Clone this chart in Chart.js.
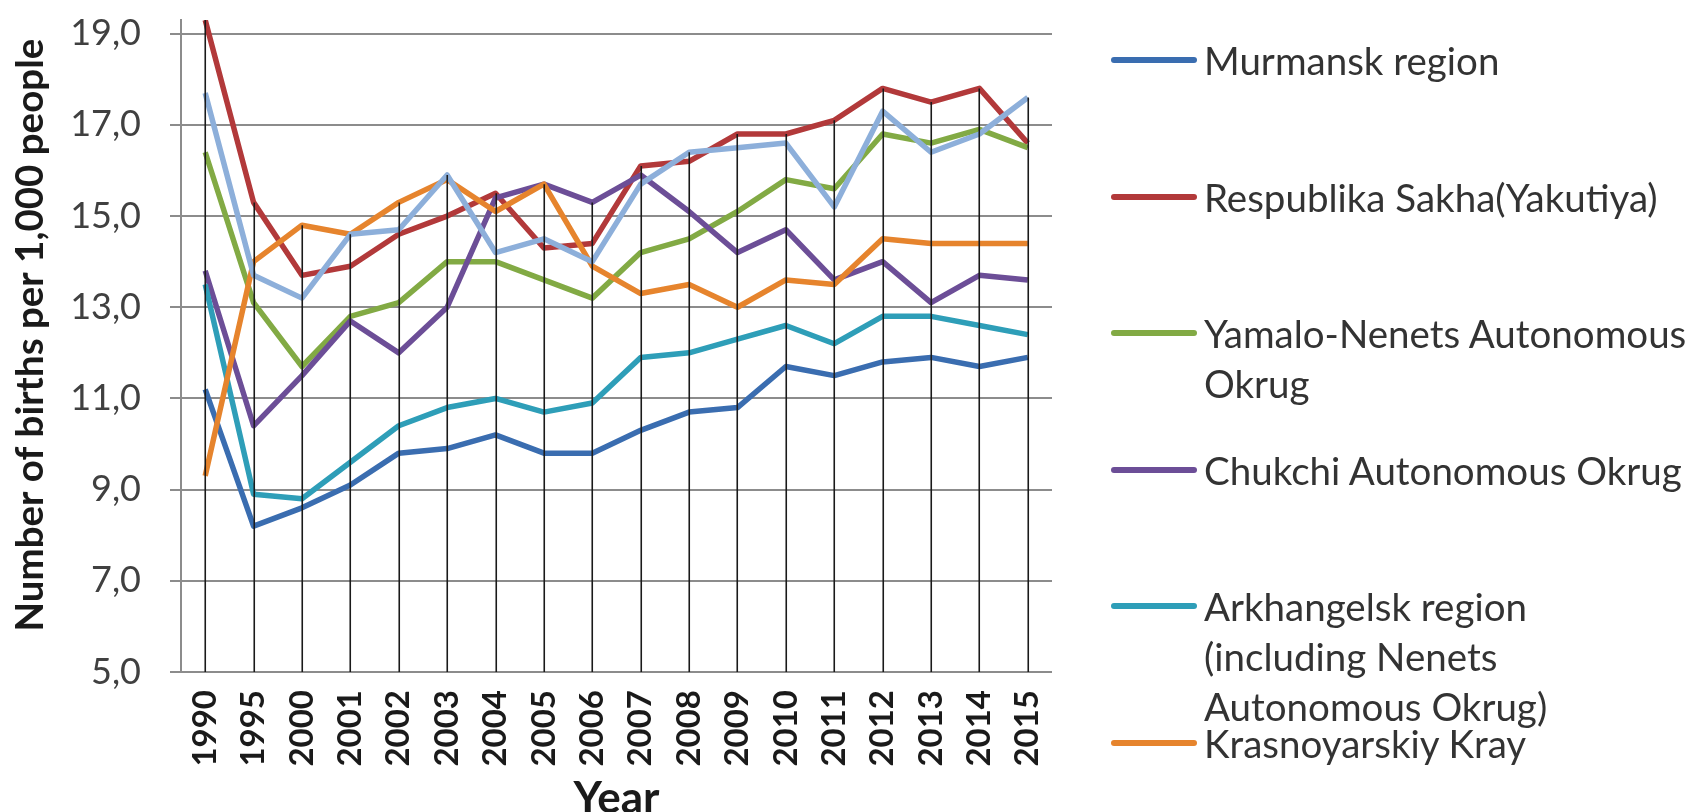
<!DOCTYPE html>
<html>
<head>
<meta charset="utf-8">
<script src="https://cdn.jsdelivr.net/npm/chart.js@4.4.1/dist/chart.umd.min.js"></script>
<style>
  body { margin:0; background:#fff; }
  #wrap { position:relative; width:1692px; height:812px; overflow:hidden; }
  #legend { position:absolute; left:0; top:0; width:1692px; height:812px; font-family:Lato, sans-serif; font-size:38.5px; color:#333; }
  .item { position:absolute; left:1111px; }
  .item .sw { position:absolute; left:0; top:22px; width:86px; height:6px; border-radius:3px; }
  .item .tx { position:absolute; left:93px; top:0; line-height:50px; white-space:pre; }
</style>
</head>
<body>
<div id="wrap">
  <canvas id="mychart" width="1692" height="812"></canvas>
  <div id="legend"></div>
</div>
<script>
var years = ['1990','1995','2000','2001','2002','2003','2004','2005','2006','2007','2008','2009','2010','2011','2012','2013','2014','2015']

var murmansk = [11.2, 8.2, 8.6, 9.1, 9.8, 9.9, 10.2, 9.8, 9.8, 10.3, 10.7, 10.8, 11.7, 11.5, 11.8, 11.9, 11.7, 11.9]
var sakha    = [19.3, 15.3, 13.7, 13.9, 14.6, 15.0, 15.5, 14.3, 14.4, 16.1, 16.2, 16.8, 16.8, 17.1, 17.8, 17.5, 17.8, 16.6]
var yamalo   = [16.4, 13.1, 11.7, 12.8, 13.1, 14.0, 14.0, 13.6, 13.2, 14.2, 14.5, 15.1, 15.8, 15.6, 16.8, 16.6, 16.9, 16.5]
var chukchi  = [13.8, 10.4, 11.5, 12.7, 12.0, 13.0, 15.4, 15.7, 15.3, 15.9, 15.1, 14.2, 14.7, 13.6, 14.0, 13.1, 13.7, 13.6]
var arkh     = [13.5, 8.9, 8.8, 9.6, 10.4, 10.8, 11.0, 10.7, 10.9, 11.9, 12.0, 12.3, 12.6, 12.2, 12.8, 12.8, 12.6, 12.4]
var krasn    = [9.3, 14.0, 14.8, 14.6, 15.3, 15.8, 15.1, 15.7, 13.9, 13.3, 13.5, 13.0, 13.6, 13.5, 14.5, 14.4, 14.4, 14.4]
// 7th series, its legend entry is cut off in the original
var series7  = [17.7, 13.7, 13.2, 14.6, 14.7, 15.9, 14.2, 14.5, 14.0, 15.7, 16.4, 16.5, 16.6, 15.2, 17.3, 16.4, 16.8, 17.6]

var names = ['Murmansk region', 'Respublika Sakha(Yakutiya)', 'Yamalo-Nenets Autonomous\nOkrug',
             'Chukchi Autonomous Okrug', 'Arkhangelsk region\n(including Nenets\nAutonomous Okrug)',
             'Krasnoyarskiy Kray', '']
var colors = ['#3a6db0', '#b2393a', '#82aa44', '#6c4e97', '#2e9eb8', '#e6842d', '#8dafda']
var series = [murmansk, sakha, yamalo, chukchi, arkh, krasn, series7]

var yTicks = [5, 7, 9, 11, 13, 15, 17, 19]

var datasets = []
series.forEach(function(s, i){
  datasets.push({
    label: names[i].replace(/\n/g, ' ') || 'Series 7',
    data: s,
    borderColor: colors[i],
    backgroundColor: colors[i],
    borderWidth: 5.5,
    pointRadius: 0,
    borderJoinStyle: 'round',
    tension: 0,
    order: series.length - i
  })
})

// Excel style drop lines: from highest point of each year down to the axis
var dropLines = {
  id: 'dropLines',
  afterDatasetsDraw: function(chart){
    var ctx = chart.ctx, xs = chart.scales.x, ys = chart.scales.y
    ctx.save()
    ctx.strokeStyle = '#1a1a1a'
    ctx.lineWidth = 1.6
    for (var i = 0; i < years.length; i++) {
      var top = Math.max.apply(null, series.map(function(s){ return s[i] }))
      var px = Math.round(xs.getPixelForValue(i)) + 0.25
      ctx.beginPath()
      ctx.moveTo(px, ys.getPixelForValue(top))
      ctx.lineTo(px, ys.getPixelForValue(yTicks[0]))
      ctx.stroke()
    }
    ctx.restore()
  }
}

var mychart = document.getElementById('mychart').getContext('2d')
var chart = new Chart(mychart, {
  type: 'line',
  data: { labels: years, datasets: datasets },
  plugins: [dropLines],
  options: {
    responsive: false,
    animation: false,
    layout: { padding: { left: 0, top: 20, right: 640, bottom: 0 } },
    plugins: { legend: { display: false }, tooltip: { enabled: false } },
    scales: {
      x: {
        offset: true,
        grid: { display: false },
        border: { display: false },
        ticks: {
          autoSkip: false, minRotation: 90, maxRotation: 90, padding: 10,
          color: '#1a1a1a', font: { family: 'Lato', size: 33, weight: 'bold' }
        },
        title: {
          display: true, text: 'Year', color: '#1a1a1a',
          font: { family: 'Lato', size: 44, weight: 'bold', lineHeight: 0.6 },
          padding: { top: 0, bottom: 0 }
        },
        afterFit: function(scale){
          scale.height = 140
          scale.paddingLeft = 0
          scale.paddingRight = 0
        }
      },
      y: {
        min: 5, max: 19.3,
        grid: { color: '#8c8c8c', lineWidth: 2, tickLength: 11 },
        border: { display: true, color: '#8c8c8c', width: 2 },
        afterBuildTicks: function(scale){ scale.ticks = yTicks.map(function(v){ return { value: v } }) },
        ticks: {
          padding: 29, color: '#404040',
          font: { family: 'Lato', size: 36 },
          callback: function(v){ return v.toFixed(1).replace('.', ',') }
        },
        title: {
          display: true, text: 'Number of births per 1,000 people  ', color: '#1a1a1a',
          align: 'end',
          font: { family: 'Lato', size: 38.5, weight: 'bold' },
          padding: { top: 7, bottom: 0 }
        },
        afterFit: function(scale){
          scale.width = 181
          scale.paddingTop = 0
          scale.paddingBottom = 0
        }
      }
    }
  }
})

// legend (6 entries shown, as in the original)
var legend = document.getElementById('legend')
for (var i = 0; i < 6; i++) {
  var item = document.createElement('div')
  item.className = 'item'
  item.style.top = (35 + i * 136.5) + 'px'
  item.innerHTML = '<div class="sw" style="background:' + colors[i] + '"></div><div class="tx"></div>'
  item.querySelector('.tx').textContent = names[i]
  legend.appendChild(item)
}
</script>
</body>
</html>
